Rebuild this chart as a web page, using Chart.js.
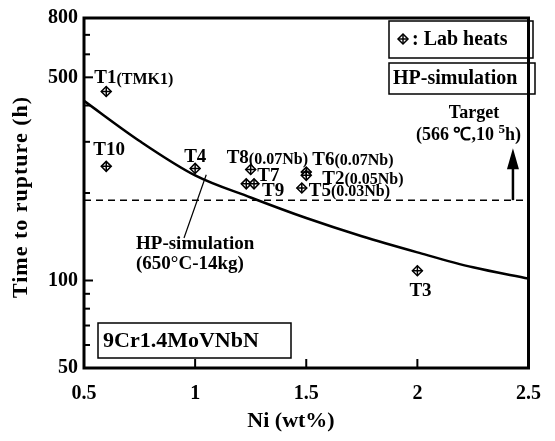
<!DOCTYPE html>
<html lang="en">
<head>
<meta charset="UTF-8">
<title>Time to rupture vs Ni</title>
<script src="https://cdn.jsdelivr.net/npm/chart.js"></script>
<style>
  body { margin: 0; background: #fff; }
</style>
</head>
<body>
<canvas id="ruptureChart" width="555" height="441"></canvas>
<script>
// lab heats
const heatNames = ['T1', 'T10', 'T4', 'T8', 'T7', 'T9', 'T6', 'T2', 'T5', 'T3'];
const heatNotes = ['(TMK1)', '', '', '(0.07Nb)', '', '', '(0.07Nb)', '(0.05Nb)', '(0.03Nb)', ''];
const heatNi = [0.6, 0.6, 1.0, 1.25, 1.23, 1.265, 1.5, 1.5, 1.48, 2.0];
const heatHours = [447, 247, 243, 241, 215, 215, 236, 230, 208, 108];

// HP-simulation curve (650C-14kg)
const curveNi = [0.5, 0.75, 1.0, 1.25, 1.5, 1.75, 2.0, 2.25, 2.5];
const curveHours = [415, 302, 230, 193, 164, 142, 125, 111, 101.5];

// target level (566C, 10^5 h)
const targetHours = 189;

const xTicks = [0.5, 1, 1.5, 2, 2.5];
const yTicks = [50, 100, 500, 800];
const yMinorTicks = [60, 70, 80, 90, 200, 300, 400, 600, 700];

// label offsets in px from each marker (layout only)
const labelOffsets = [[-12, -13], [-13, -16], [-11, -11], [-24, -11], [11, -8], [8, 7], [6, -12], [16, 4], [7, 3], [-8, 20]];

const serif = '"Liberation Serif", "Times New Roman", serif';
const f = (size) => 'bold ' + size + 'px ' + serif;

function drawParts(ctx, x, y, parts) {
  // parts: [text, size, raise]
  parts.forEach(([t, size, raise]) => {
    ctx.font = f(size);
    ctx.fillText(t, x, y - (raise || 0));
    x += ctx.measureText(t).width;
  });
}

function line(ctx, x1, y1, x2, y2) {
  ctx.beginPath();
  ctx.moveTo(x1, y1);
  ctx.lineTo(x2, y2);
  ctx.stroke();
}

const annotate = {
  id: 'annotate',
  afterDraw(chart) {
    const { ctx, chartArea: a, scales: { x, y } } = chart;
    ctx.save();
    ctx.strokeStyle = '#000';
    ctx.fillStyle = '#000';

    // frame
    ctx.lineWidth = 3;
    ctx.strokeRect(a.left, a.top, a.right - a.left, a.bottom - a.top);

    // inward ticks
    ctx.lineWidth = 2;
    yTicks.concat(yMinorTicks).forEach(v => {
      if (v <= 50 || v >= 800) return;
      const py = y.getPixelForValue(v);
      line(ctx, a.left, py, a.left + (yTicks.includes(v) ? 9 : 6), py);
    });
    xTicks.forEach(v => {
      if (v <= 0.5 || v >= 2.5) return;
      const px = x.getPixelForValue(v);
      line(ctx, px, a.bottom, px, a.bottom - 9);
    });

    // heat labels
    ctx.textBaseline = 'middle';
    ctx.textAlign = 'left';
    heatNames.forEach((name, i) => {
      const px = x.getPixelForValue(heatNi[i]) + labelOffsets[i][0];
      const py = y.getPixelForValue(heatHours[i]) + labelOffsets[i][1];
      const parts = [[name, 19, 0]];
      if (heatNotes[i]) parts.push([heatNotes[i], 16, -1]);
      drawParts(ctx, px, py, parts);
    });

    // leader from curve to its label
    ctx.lineWidth = 1.2;
    line(ctx, x.getPixelForValue(1.05), y.getPixelForValue(231),
              x.getPixelForValue(0.95), y.getPixelForValue(140));
    ctx.font = f(19);
    ctx.fillText('HP-simulation', 136, 244);
    ctx.fillText('(650\u00B0C-14kg)', 136, 264);

    // target arrow
    const ax = x.getPixelForValue(2.43);
    const ay0 = y.getPixelForValue(targetHours);
    const ay1 = y.getPixelForValue(285);
    ctx.lineWidth = 2.5;
    line(ctx, ax, ay0, ax, ay1 + 16);
    ctx.beginPath();
    ctx.moveTo(ax, ay1);
    ctx.lineTo(ax - 6, ay1 + 21);
    ctx.lineTo(ax + 6, ay1 + 21);
    ctx.closePath();
    ctx.fill();
    ctx.textAlign = 'center';
    ctx.font = f(18);
    ctx.fillText('Target', 474, 113);
    ctx.textAlign = 'left';
    drawParts(ctx, 416, 135, [['(566 \u2103,10 ', 18, 0], ['5', 13, 5], ['h)', 18, 0]]);

    // boxes
    ctx.lineWidth = 1.5;
    ctx.strokeRect(389, 21, 144, 37);
    ctx.strokeRect(389, 63, 146, 31);
    ctx.strokeRect(98, 323, 193, 35);
    // legend marker
    const mx = 403, my = 39;
    ctx.lineWidth = 1.5;
    ctx.beginPath();
    ctx.moveTo(mx, my - 5); ctx.lineTo(mx + 5, my); ctx.lineTo(mx, my + 5); ctx.lineTo(mx - 5, my);
    ctx.closePath();
    ctx.stroke();
    line(ctx, mx - 5, my, mx + 5, my);
    line(ctx, mx, my - 5, mx, my + 5);
    ctx.font = f(20);
    ctx.fillText(': Lab heats', 412, 40);
    ctx.fillText('HP-simulation', 393, 79);
    ctx.font = f(22);
    ctx.fillText('9Cr1.4MoVNbN', 103, 341);

    // axis titles
    ctx.font = f(22);
    ctx.textAlign = 'center';
    ctx.fillText('Ni (wt%)', 291, 421);
    ctx.save();
    ctx.translate(21, 197);
    ctx.rotate(-Math.PI / 2);
    ctx.letterSpacing = '1px';
    ctx.fillText('Time to rupture (h)', 0, 0);
    ctx.restore();

    ctx.restore();
  }
};

const ctx = document.getElementById('ruptureChart').getContext('2d');
const heatPoints = heatNi.map((v, i) => ({ x: v, y: heatHours[i] }));

new Chart(ctx, {
  type: 'scatter',
  data: {
    datasets: [
      {
        type: 'line',
        data: curveNi.map((v, i) => ({ x: v, y: curveHours[i] })),
        borderColor: '#000',
        borderWidth: 2.5,
        pointRadius: 0,
        cubicInterpolationMode: 'monotone'
      },
      {
        type: 'line',
        data: [{ x: 0.5, y: targetHours }, { x: 2.5, y: targetHours }],
        borderColor: '#000',
        borderWidth: 1.5,
        borderDash: [7, 5],
        pointRadius: 0
      },
      {
        // diamond
        data: heatPoints,
        order: 2,
        pointStyle: 'rectRot',
        pointRadius: 5,
        borderColor: '#000',
        backgroundColor: '#fff',
        borderWidth: 1.5
      },
      {
        // cross on top of the diamond
        data: heatPoints,
        order: 1,
        pointStyle: 'cross',
        pointRadius: 5,
        borderColor: '#000',
        borderWidth: 1.5
      }
    ]
  },
  options: {
    responsive: false,
    animation: false,
    layout: { padding: { left: 0, right: 12, top: 17, bottom: 0 } },
    plugins: { legend: { display: false }, tooltip: { enabled: false } },
    scales: {
      x: {
        type: 'linear',
        min: 0.5,
        max: 2.5,
        grid: { display: false, drawTicks: false },
        border: { display: false },
        afterBuildTicks: s => { s.ticks = xTicks.map(v => ({ value: v })); },
        afterFit: s => { s.height = 73; },
        ticks: {
          padding: 14,
          color: '#000',
          font: { family: serif, size: 20, weight: 'bold' },
          callback: v => String(v)
        }
      },
      y: {
        type: 'logarithmic',
        min: 50,
        max: 800,
        grid: { display: false, drawTicks: false },
        border: { display: false },
        afterBuildTicks: s => { s.ticks = yTicks.map(v => ({ value: v })); },
        afterFit: s => { s.width = 84; },
        ticks: {
          padding: 6,
          color: '#000',
          font: { family: serif, size: 20, weight: 'bold' },
          callback: v => String(v)
        }
      }
    }
  },
  plugins: [annotate]
});
</script>
</body>
</html>
